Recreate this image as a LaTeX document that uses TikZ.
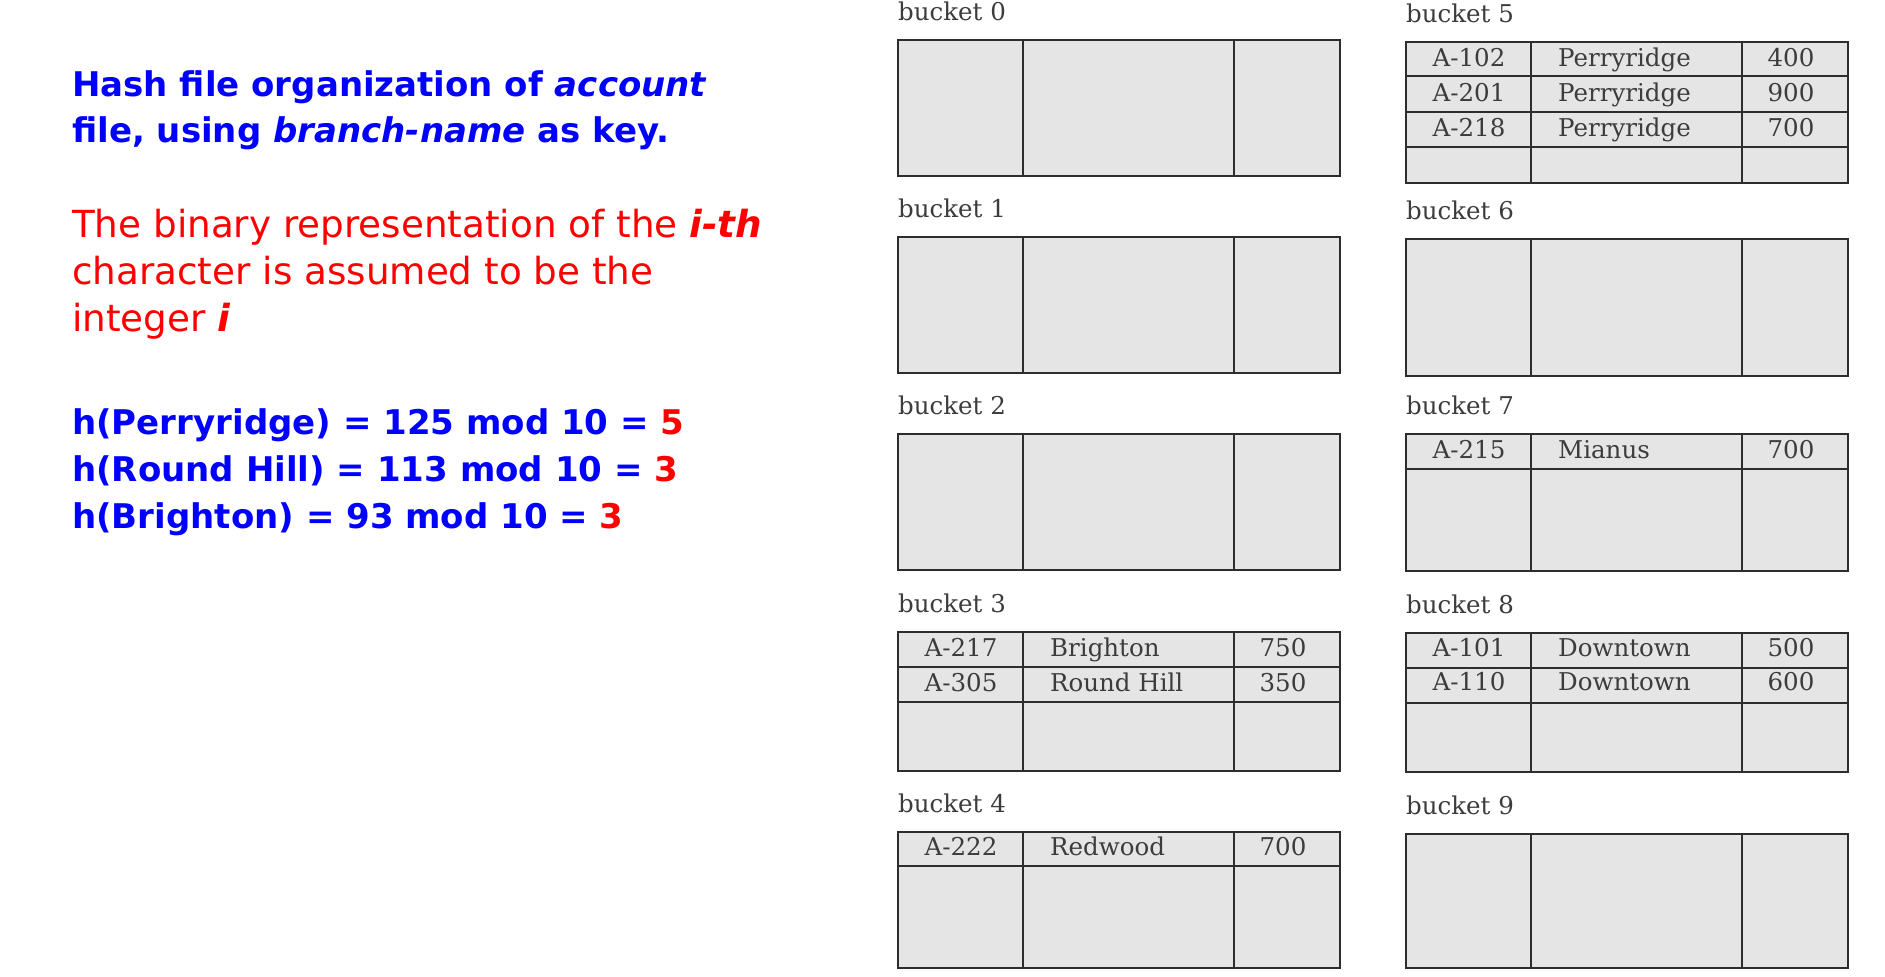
\documentclass[tikz,border=0pt]{standalone}
\usepackage{fontspec}
\setmainfont{DejaVu Serif}
\newfontfamily\cfont{DejaVu Sans}
\definecolor{cellgray}{RGB}{229,229,229}
\definecolor{edgec}{RGB}{45,45,45}
\definecolor{lblc}{RGB}{60,60,60}
\definecolor{hblue}{RGB}{0,0,255}
\definecolor{hred}{RGB}{255,0,0}
\tikzset{
 bbox/.style={fill=cellgray, draw=edgec, line width=2.6bp},
 gridl/.style={draw=edgec, line width=2.4bp},
 blabel/.style={anchor=base west, inner sep=0, text=lblc, font=\fontsize{24.5bp}{27bp}\selectfont},
 cell/.style={anchor=base, inner sep=0, text=lblc, font=\fontsize{24.5bp}{27bp}\selectfont},
 cellL/.style={cell, anchor=base west},
 bluet/.style={anchor=base west, inner sep=0, text=hblue, font=\cfont\bfseries\fontsize{34bp}{40bp}\selectfont},
 redt/.style={anchor=base west, inner sep=0, text=hred, font=\cfont\fontsize{37.3bp}{40bp}\selectfont},
}
\newcommand{\mybucket}[5]{%
 \node[blabel] (#1lbl) at (#2,#3-20) {#5};
 \filldraw[bbox] (#2,#3) rectangle (#2+442,#4);
 \draw[gridl] (#2+125,#3) -- (#2+125,#4) (#2+336,#3) -- (#2+336,#4);
}
\newcommand{\rowline}[2]{\draw[gridl] (#1,#2) -- (#1+442,#2);}
\newcommand{\rowtext}[6]{%
 \node[cell] (#1a) at (#2+63,#3) {#4};
 \node[cellL] (#1b) at (#2+152,#3) {#5};
 \node[cell] (#1c) at (#2+385,#3) {#6};
}
\begin{document}
\begin{tikzpicture}[x=1bp,y=-1bp]
\useasboundingbox (0,0) rectangle (1885,976);
% left column buckets
\mybucket{b0}{898}{40}{176}{bucket 0}
\mybucket{b1}{898}{237}{373}{bucket 1}
\mybucket{b2}{898}{434}{570}{bucket 2}
\mybucket{b3}{898}{632}{771}{bucket 3}
\rowline{898}{667}
\rowline{898}{702}
\rowtext{b3r1}{898}{656}{A-217}{Brighton}{750}
\rowtext{b3r2}{898}{691}{A-305}{Round Hill}{350}
\mybucket{b4}{898}{832}{968}{bucket 4}
\rowline{898}{866}
\rowtext{b4r1}{898}{855}{A-222}{Redwood}{700}
% right column buckets
\mybucket{b5}{1406}{42}{183}{bucket 5}
\rowline{1406}{76}
\rowline{1406}{112}
\rowline{1406}{147}
\rowtext{b5r1}{1406}{66}{A-102}{Perryridge}{400}
\rowtext{b5r2}{1406}{101}{A-201}{Perryridge}{900}
\rowtext{b5r3}{1406}{136}{A-218}{Perryridge}{700}
\mybucket{b6}{1406}{239}{376}{bucket 6}
\mybucket{b7}{1406}{434}{571}{bucket 7}
\rowline{1406}{469}
\rowtext{b7r1}{1406}{458}{A-215}{Mianus}{700}
\mybucket{b8}{1406}{633}{772}{bucket 8}
\rowline{1406}{668}
\rowline{1406}{703}
\rowtext{b8r1}{1406}{656}{A-101}{Downtown}{500}
\rowtext{b8r2}{1406}{690}{A-110}{Downtown}{600}
\mybucket{b9}{1406}{834}{968}{bucket 9}
% left text
\node[bluet] (t1) at (72,96) {Hash file organization of \textit{account}};
\node[bluet] (t2) at (72,142) {file, using \textit{branch-name} as key.};
\node[redt] (r1) at (72,237) {The binary representation of the \textbf{\textit{i-th}}};
\node[redt] (r2) at (72,284) {character is assumed to be the};
\node[redt] (r3) at (72,331) {integer \textbf{\textit{i}}};
\node[bluet] (h1) at (72,434) {h(Perryridge) = 125 mod 10 = {\color{hred}5}};
\node[bluet] (h2) at (72,481) {h(Round Hill) = 113 mod 10 = {\color{hred}3}};
\node[bluet] (h3) at (72,528) {h(Brighton) = 93 mod 10 = {\color{hred}3}};
\end{tikzpicture}
\end{document}
